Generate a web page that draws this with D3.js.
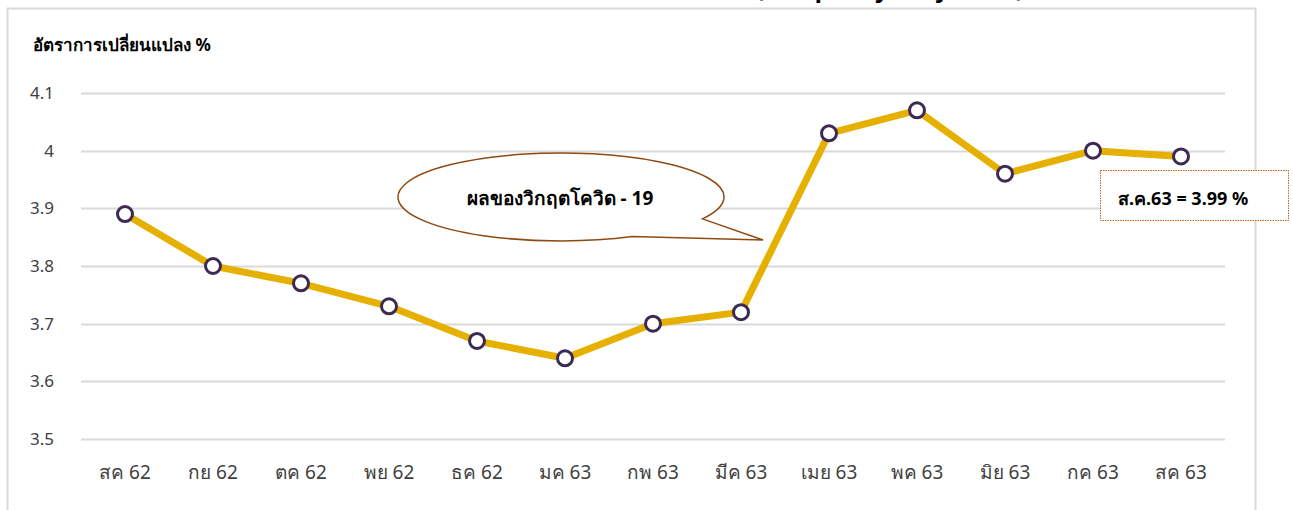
<!DOCTYPE html>
<html>
<head>
<meta charset="utf-8">
<script src="https://cdn.jsdelivr.net/npm/d3@7"></script>
<style>
  body { margin: 0; background: #ffffff; }
  svg { display: block; font-family: "Noto Sans", "DejaVu Sans", sans-serif; }
</style>
</head>
<body>
<div id="chartDiv"></div>
<script>
// data
var months = ["สค 62", "กย 62", "ตค 62", "พย 62", "ธค 62", "มค 63", "กพ 63", "มีค 63", "เมย 63", "พค 63", "มิย 63", "กค 63", "สค 63"];
var rates = [3.89, 3.80, 3.77, 3.73, 3.67, 3.64, 3.70, 3.72, 4.03, 4.07, 3.96, 4.00, 3.99];
var yTicks = [3.5, 3.6, 3.7, 3.8, 3.9, 4, 4.1];
var yTitle = "อัตราการเปลี่ยนแปลง %";
var calloutText = "ผลของวิกฤตโควิด - 19";
var lastLabel = "ส.ค.63 = 3.99 %";

var width = 1293, height = 510;

var svg = d3.select("#chartDiv")
    .append("svg")
    .attr("width", width)
    .attr("height", height);

// title cut off at the top of the picture
svg.append("text")
    .attr("x", 890)
    .attr("y", -3)
    .attr("text-anchor", "middle")
    .style("font-size", "24px")
    .style("font-weight", "bold")
    .style("fill", "#000")
    .text("(compare yearly basis)");

// chart area border
svg.append("rect")
    .attr("x", 7.5)
    .attr("y", 8.5)
    .attr("width", 1248)
    .attr("height", 520)
    .attr("fill", "#fff")
    .attr("stroke", "#d9d9d9")
    .attr("stroke-width", 2);

var x = d3.scaleBand()
    .domain(months)
    .range([81, 1225]);

var y = d3.scaleLinear()
    .domain([3.5, 4.1])
    .range([439, 93]);

// gridlines
svg.append("g")
    .selectAll("line")
    .data(yTicks)
    .enter()
    .append("line")
    .attr("x1", 81)
    .attr("x2", 1225)
    .attr("y1", function(d) { return Math.round(y(d)) + 0.5; })
    .attr("y2", function(d) { return Math.round(y(d)) + 0.5; })
    .attr("stroke", "#d9d9d9")
    .attr("stroke-width", 2);

// y axis
var yAxis = svg.append("g")
    .attr("transform", "translate(54,0)")
    .call(d3.axisLeft(y).tickValues(yTicks).tickSize(0).tickPadding(0).tickFormat(function(d) { return d3.format("")(d); }));
yAxis.select(".domain").remove();
yAxis.selectAll("text")
    .style("font-size", "17px")
    .style("fill", "#404040")
    .style("font-family", "\"Noto Sans\", sans-serif");

// x axis
var xAxis = svg.append("g")
    .attr("transform", "translate(0,465)")
    .call(d3.axisBottom(x).tickSize(0).tickPadding(0));
xAxis.select(".domain").remove();
xAxis.selectAll("text")
    .style("font-size", "19px")
    .style("fill", "#404040")
    .style("font-family", "\"Noto Sans\", sans-serif");

// y title
svg.append("text")
    .attr("x", 33)
    .attr("y", 51)
    .style("font-size", "17px")
    .style("font-weight", "bold")
    .style("fill", "#000")
    .text(yTitle);

// line
var line = d3.line()
    .x(function(d, i) { return x(months[i]) + x.bandwidth() / 2; })
    .y(function(d) { return y(d); });

svg.append("path")
    .datum(rates)
    .attr("d", line)
    .attr("fill", "none")
    .attr("stroke", "#e6b000")
    .attr("stroke-width", 7)
    .attr("stroke-linejoin", "round");

svg.append("g")
    .selectAll("circle")
    .data(rates)
    .enter()
    .append("circle")
    .attr("cx", function(d, i) { return x(months[i]) + x.bandwidth() / 2; })
    .attr("cy", function(d) { return y(d); })
    .attr("r", 7.5)
    .attr("fill", "#fff")
    .attr("stroke", "#3c2a55")
    .attr("stroke-width", 3);

// callout bubble
var cx = 561, cy = 197, rx = 163, ry = 44;
var a1 = 0.52, a2 = 1.12; // angles (from +x axis, downward) where the tail leaves the ellipse
var tip = [763, 240];
var p1 = [cx + rx * Math.cos(a1), cy + ry * Math.sin(a1)];
var p2 = [cx + rx * Math.cos(a2), cy + ry * Math.sin(a2)];
var bubble = "M" + p1[0] + "," + p1[1] +
    " L" + tip[0] + "," + tip[1] +
    " L" + p2[0] + "," + p2[1] +
    " A" + rx + "," + ry + " 0 1,1 " + p1[0] + "," + p1[1] + " Z";
svg.append("path")
    .attr("d", bubble)
    .attr("fill", "#fff")
    .attr("stroke", "#8f4a12")
    .attr("stroke-width", 1.5);

svg.append("text")
    .attr("x", 560)
    .attr("y", 205)
    .attr("text-anchor", "middle")
    .style("font-size", "19px")
    .style("font-weight", "bold")
    .style("fill", "#000")
    .text(calloutText);

// label for the last point
svg.append("rect")
    .attr("x", 1100.5)
    .attr("y", 170.5)
    .attr("width", 188)
    .attr("height", 50)
    .attr("fill", "#fff")
    .attr("stroke", "#c0651f")
    .attr("stroke-width", 1)
    .attr("stroke-dasharray", "1.5,1");

svg.append("text")
    .attr("x", 1118)
    .attr("y", 205)
    .style("font-size", "18px")
    .style("font-weight", "bold")
    .style("fill", "#000")
    .text(lastLabel);
</script>
</body>
</html>
